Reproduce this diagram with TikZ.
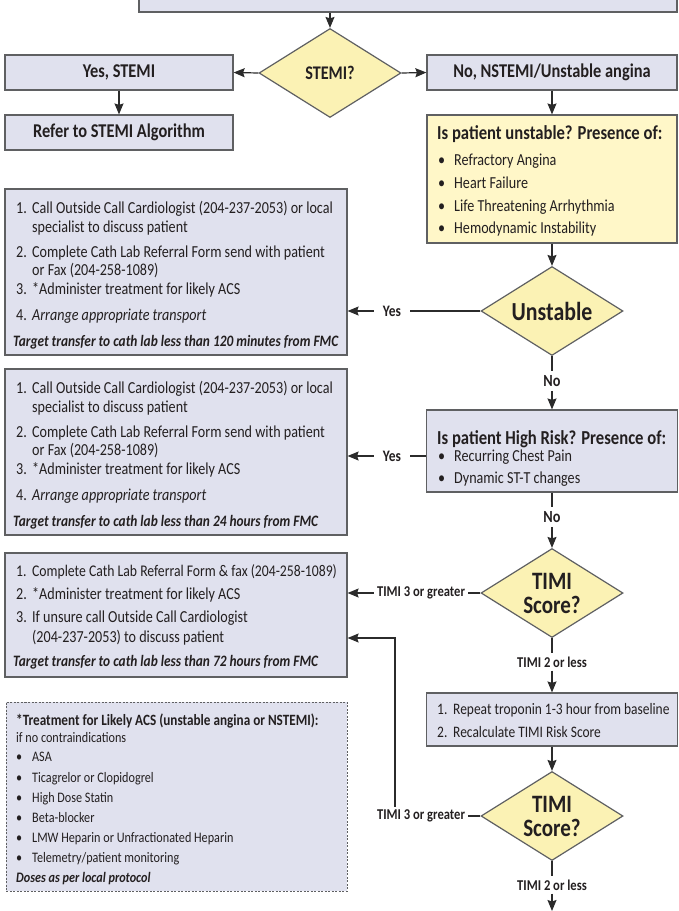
\documentclass[tikz,border=0pt]{standalone}
\usepackage{fontspec}
\setmainfont{Carlito}[FakeStretch=0.84]
\usetikzlibrary{shapes.geometric,arrows.meta}
\definecolor{boxfill}{HTML}{E0E1EE}
\definecolor{yellowfill}{HTML}{FFF7C8}
\definecolor{diafill}{HTML}{FBF2B4}
\definecolor{bordc}{HTML}{5F6062}
\definecolor{linec}{HTML}{2B2B2B}
\definecolor{txtc}{HTML}{231F20}
\newcommand\fs[1]{\fontsize{#1}{#1}\selectfont}
\tikzset{
  box/.style={draw=bordc, fill=boxfill, line width=1.2pt, inner sep=0pt},
  ybox/.style={box, fill=yellowfill},
  dashbox/.style={draw=bordc, fill=boxfill, line width=0.9pt, dash pattern=on 2pt off 1.5pt, inner sep=0pt},
  dia/.style={diamond, draw=bordc, fill=diafill, line width=1.2pt, inner sep=0pt, aspect=1.6,
    minimum width=142pt, minimum height=89pt, font=\bfseries\fs{25}, align=center, text=txtc},
  ttl/.style={font=\bfseries\fs{19.5}, text=txtc},
  txt/.style={inner sep=0pt, anchor=base west, font=\fs{16.8}, text=txtc},
  rtxt/.style={txt, font=\fs{16}},
  stxt/.style={txt, font=\fs{14.5}},
  bi/.style={font=\bfseries\itshape\fs{15.9}},
  lbl/.style={font=\bfseries\fs{16}, text=txtc, inner ysep=0pt, inner xsep=9pt},
  vlbl/.style={font=\bfseries\fs{17}, text=txtc, inner xsep=0pt, inner ysep=4pt},
  slbl/.style={font=\bfseries\fs{15}, text=txtc, inner sep=3pt},
  con/.style={draw=linec, line width=1.2pt},
  arr/.style={con, -{Stealth[length=11pt,width=9pt,inset=1.5pt]}},
}
\newcommand\itemline[6]{\node[#6] (#1) at (#2,#3) {\makebox[16pt][l]{#4}#5};}
\begin{document}
\begin{tikzpicture}[x=1pt,y=-1pt]
\useasboundingbox (0,0) rectangle (678,911);
% top
\node[box, minimum width=538pt, minimum height=20pt] (top) at (408,2) {};
\node[dia] (stemi) at (330,73) {\fs{19.3}STEMI?};
\node[box, ttl, minimum width=228pt, minimum height=35pt] (yes) at (119,72.5) {Yes, STEMI};
\node[box, ttl, minimum width=250pt, minimum height=35pt] (no) at (552,72.5) {No, NSTEMI/Unstable angina};
\node[box, ttl, minimum width=228pt, minimum height=35pt] (refer) at (119,132.5) {Refer to STEMI Algorithm};
% yellow box
\node[ybox, minimum width=250pt, minimum height=128pt] (unstq) at (552,179) {};
\node[txt, font=\bfseries\fs{19.8}] (y0) at (437,139) {Is patient unstable? Presence of:};
\itemline{y1}{438}{165}{•}{Refractory Angina}{txt}
\itemline{y2}{438}{188}{•}{Heart Failure}{txt}
\itemline{y3}{438}{211}{•}{Life Threatening Arrhythmia}{txt}
\itemline{y4}{438}{233}{•}{Hemodynamic Instability}{txt}
% unstable diamond
\node[dia] (unst) at (552,311) {\fs{26}Unstable};
% left box 1
\node[box, minimum width=342pt, minimum height=166pt] (left1) at (176,272) {};
\itemline{a1}{16}{213}{1.}{Call Outside Call Cardiologist (204-237-2053) or local}{txt}
\node[txt] (a1b) at (32,232) {specialist to discuss patient};
\itemline{a2}{16}{257}{2.}{Complete Cath Lab Referral Form send with patient}{txt}
\node[txt] (a2b) at (32,275) {or Fax (204-258-1089)};
\itemline{a3}{16}{294}{3.}{*Administer treatment for likely ACS}{txt}
\itemline{a4}{16}{320}{4.}{\itshape Arrange appropriate transport}{txt}
\node[txt, bi] (a5) at (13,346) {Target transfer to cath lab less than 120 minutes from FMC};
% left box 2
\node[box, minimum width=342pt, minimum height=166pt] (left2) at (176,452) {};
\itemline{b1}{16}{393}{1.}{Call Outside Call Cardiologist (204-237-2053) or local}{txt}
\node[txt] (b1b) at (32,412) {specialist to discuss patient};
\itemline{b2}{16}{437}{2.}{Complete Cath Lab Referral Form send with patient}{txt}
\node[txt] (b2b) at (32,455) {or Fax (204-258-1089)};
\itemline{b3}{16}{474}{3.}{*Administer treatment for likely ACS}{txt}
\itemline{b4}{16}{500}{4.}{\itshape Arrange appropriate transport}{txt}
\node[txt, bi] (b5) at (13,526) {Target transfer to cath lab less than 24 hours from FMC};
% high risk box
\node[box, minimum width=251pt, minimum height=82pt] (hr) at (552,451) {};
\node[txt, font=\bfseries\fs{19.8}] (h0) at (437,444) {Is patient High Risk? Presence of:};
\itemline{h1}{438}{461}{•}{Recurring Chest Pain}{txt}
\itemline{h2}{438}{483}{•}{Dynamic ST-T changes}{txt}
% timi 1
\node[dia] (timi1) at (552,593) {TIMI\\[-1pt]Score?};
% left box 3
\node[box, minimum width=342pt, minimum height=124pt] (left3) at (176,615) {};
\itemline{c1}{16}{576}{1.}{Complete Cath Lab Referral Form \& fax (204-258-1089)}{txt, font=\fs{16.3}}
\itemline{c2}{16}{599}{2.}{*Administer treatment for likely ACS}{txt}
\itemline{c3}{16}{622}{3.}{If unsure call Outside Call Cardiologist}{txt}
\node[txt] (c3b) at (32,642) {(204-237-2053) to discuss patient};
\node[txt, bi] (c4) at (13,666) {Target transfer to cath lab less than 72 hours from FMC};
% repeat box
\node[box, minimum width=251pt, minimum height=53pt] (rep) at (552,719.5) {};
\itemline{r1}{437}{714}{1.}{Repeat troponin 1-3 hour from baseline}{rtxt}
\itemline{r2}{437}{737}{2.}{Recalculate TIMI Risk Score}{rtxt}
% timi 2
\node[dia] (timi2) at (552,816) {TIMI\\[-1pt]Score?};
% dashed box
\node[dashbox, minimum width=341pt, minimum height=189pt] (acs) at (176.5,796.5) {};
\node[txt, font=\bfseries\fs{15.7}] (d0) at (16,725) {*Treatment for Likely ACS (unstable angina or NSTEMI):};
\node[stxt] (d1) at (16,742) {if no contraindications};
\itemline{d2}{16}{761}{•}{ASA}{stxt}
\itemline{d3}{16}{782}{•}{Ticagrelor or Clopidogrel}{stxt}
\itemline{d4}{16}{802}{•}{High Dose Statin}{stxt}
\itemline{d5}{16}{822}{•}{Beta-blocker}{stxt}
\itemline{d6}{16}{842}{•}{LMW Heparin or Unfractionated Heparin}{stxt}
\itemline{d7}{16}{862}{•}{Telemetry/patient monitoring}{stxt}
\node[txt, font=\bfseries\itshape\fs{14.5}] (d8) at (16,882) {Doses as per local protocol};
% labels
\node[lbl] (ly1) at (392,311) {Yes};
\node[vlbl] (ln1) at (552,381) {No};
\node[lbl] (ly2) at (392,456) {Yes};
\node[vlbl] (ln2) at (552,517) {No};
\node[slbl] (lt3a) at (421,593) {TIMI 3 or greater};
\node[slbl] (lt2a) at (552,662) {TIMI 2 or less};
\node[slbl] (lt3b) at (421,816) {TIMI 3 or greater};
\node[slbl] (lt2b) at (552,885) {TIMI 2 or less};
\coordinate (fb) at (395,638);
\coordinate (endpt) at (552,911);
% connectors
\draw[arr] (top.south -| stemi.north) -- (stemi.north);
\draw[arr] (stemi.west) -- (yes.east);
\draw[arr] (stemi.east) -- (no.west);
\draw[arr] (yes.south) -- (refer.north);
\draw[arr] (no.south) -- (unstq.north);
\draw[arr] (unstq.south) -- (unst.north);
\draw[con] (unst.west) -- (ly1.east);
\draw[arr] (ly1.west) -- (ly1.west -| left1.east);
\draw[con] (unst.south) -- (ln1.north);
\draw[arr] (ln1.south) -- (hr.north);
\draw[con] (hr.west |- ly2.east) -- (ly2.east);
\draw[arr] (ly2.west) -- (ly2.west -| left2.east);
\draw[con] (hr.south) -- (ln2.north);
\draw[arr] (ln2.south) -- (timi1.north);
\draw[con] (timi1.west) -- (lt3a.east);
\draw[arr] (lt3a.west) -- (lt3a.west -| left3.east);
\draw[con] (timi1.south) -- (lt2a.north);
\draw[arr] (lt2a.south) -- (rep.north);
\draw[arr] (rep.south) -- (timi2.north);
\draw[con] (timi2.west) -- (lt3b.east);
\draw[arr] (lt3b.north -| fb) -- (fb) -- (fb -| left3.east);
\draw[con] (timi2.south) -- (lt2b.north);
\draw[arr] (lt2b.south) -- (endpt);
\end{tikzpicture}
\end{document}
